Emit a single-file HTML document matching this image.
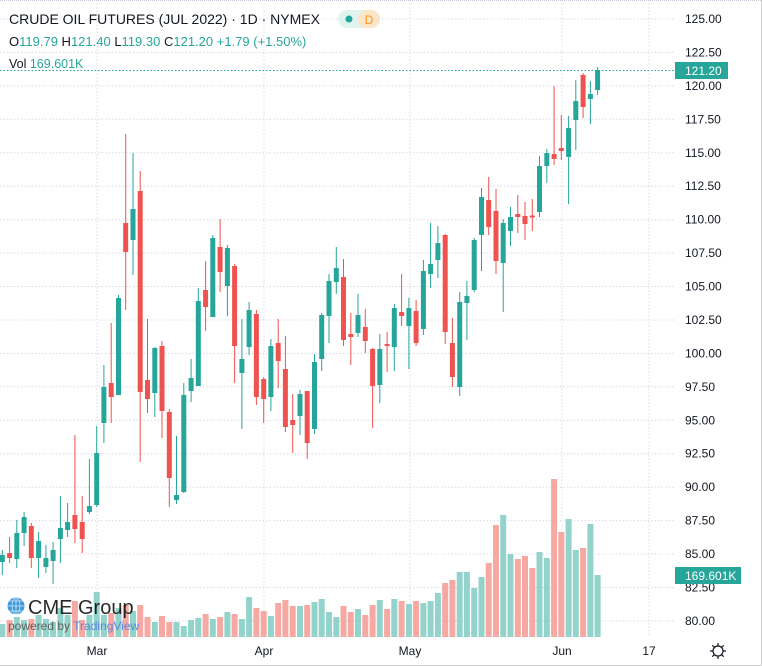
<!DOCTYPE html>
<html><head><meta charset="utf-8"><style>
html,body{margin:0;padding:0;background:#fff;}
body{width:762px;height:666px;overflow:hidden;position:relative;font-family:"Liberation Sans",sans-serif;}
svg{position:absolute;left:0;top:0;}
</style></head><body>
<svg width="762" height="666" viewBox="0 0 762 666" xmlns="http://www.w3.org/2000/svg" font-family="Liberation Sans, sans-serif">
<rect x="0" y="0" width="762" height="666" fill="#fff"/>
<line x1="0" y1="0.5" x2="762" y2="0.5" stroke="#c8c8d8" stroke-dasharray="1,1"/>
<line x1="761.5" y1="0" x2="761.5" y2="666" stroke="#d0d0d0"/>
<line x1="0" y1="665.5" x2="762" y2="665.5" stroke="#d0d0d0"/>
<g stroke="#dcd8e8" stroke-dasharray="1.5,2" stroke-width="1">
<line x1="0" x2="675" y1="19" y2="19"/><line x1="0" x2="675" y1="52.4" y2="52.4"/><line x1="0" x2="675" y1="85.9" y2="85.9"/><line x1="0" x2="675" y1="119.3" y2="119.3"/><line x1="0" x2="675" y1="152.8" y2="152.8"/><line x1="0" x2="675" y1="186.2" y2="186.2"/><line x1="0" x2="675" y1="219.7" y2="219.7"/><line x1="0" x2="675" y1="253.1" y2="253.1"/><line x1="0" x2="675" y1="286.5" y2="286.5"/><line x1="0" x2="675" y1="320" y2="320"/><line x1="0" x2="675" y1="353.4" y2="353.4"/><line x1="0" x2="675" y1="386.8" y2="386.8"/><line x1="0" x2="675" y1="420.3" y2="420.3"/><line x1="0" x2="675" y1="453.7" y2="453.7"/><line x1="0" x2="675" y1="487.2" y2="487.2"/><line x1="0" x2="675" y1="520.6" y2="520.6"/><line x1="0" x2="675" y1="554" y2="554"/><line x1="0" x2="675" y1="587.5" y2="587.5"/><line x1="0" x2="675" y1="620.9" y2="620.9"/>
<line x1="97" x2="97" y1="0" y2="637"/><line x1="264" x2="264" y1="0" y2="637"/><line x1="410" x2="410" y1="0" y2="637"/><line x1="562" x2="562" y1="0" y2="637"/><line x1="649" x2="649" y1="0" y2="637"/>
</g>
<g fill="#92d3cb">
<rect x="-0.7" y="624" width="6" height="13"/><rect x="13.8" y="617" width="6" height="20"/><rect x="21.1" y="620" width="6" height="17"/><rect x="35.6" y="615" width="6" height="22"/><rect x="42.9" y="619" width="6" height="18"/><rect x="50.1" y="622" width="6" height="15"/><rect x="57.4" y="608" width="6" height="29"/><rect x="64.6" y="615" width="6" height="22"/><rect x="86.4" y="615" width="6" height="22"/><rect x="93.7" y="592" width="6" height="45"/><rect x="100.9" y="615" width="6" height="22"/><rect x="115.5" y="608" width="6" height="29"/><rect x="130" y="611" width="6" height="26"/><rect x="151.8" y="622" width="6" height="15"/><rect x="173.5" y="622" width="6" height="15"/><rect x="180.8" y="626" width="6" height="11"/><rect x="188.1" y="620" width="6" height="17"/><rect x="195.3" y="618" width="6" height="19"/><rect x="209.8" y="619" width="6" height="18"/><rect x="224.4" y="612" width="6" height="25"/><rect x="238.9" y="619" width="6" height="18"/><rect x="246.1" y="597" width="6" height="40"/><rect x="267.9" y="616" width="6" height="21"/><rect x="297" y="606" width="6" height="31"/><rect x="311.5" y="602" width="6" height="35"/><rect x="318.7" y="599" width="6" height="38"/><rect x="326" y="612" width="6" height="25"/><rect x="333.3" y="617" width="6" height="20"/><rect x="355" y="609" width="6" height="28"/><rect x="376.8" y="600" width="6" height="37"/><rect x="391.3" y="599" width="6" height="38"/><rect x="405.9" y="604" width="6" height="33"/><rect x="420.4" y="603" width="6" height="34"/><rect x="427.6" y="601" width="6" height="36"/><rect x="434.9" y="593" width="6" height="44"/><rect x="456.7" y="572" width="6" height="65"/><rect x="463.9" y="572" width="6" height="65"/><rect x="471.2" y="588" width="6" height="49"/><rect x="478.5" y="577" width="6" height="60"/><rect x="500.2" y="515" width="6" height="122"/><rect x="507.5" y="554" width="6" height="83"/><rect x="536.5" y="552" width="6" height="85"/><rect x="543.8" y="558" width="6" height="79"/><rect x="565.6" y="519" width="6" height="118"/><rect x="572.8" y="550" width="6" height="87"/><rect x="587.4" y="524" width="6" height="113"/><rect x="594.6" y="575" width="6" height="62"/>
</g>
<g fill="#f6a9a3">
<rect x="6.6" y="620" width="6" height="17"/><rect x="28.3" y="619" width="6" height="18"/><rect x="71.9" y="601" width="6" height="36"/><rect x="79.2" y="620" width="6" height="17"/><rect x="108.2" y="613" width="6" height="24"/><rect x="122.7" y="605" width="6" height="32"/><rect x="137.2" y="605" width="6" height="32"/><rect x="144.5" y="617" width="6" height="20"/><rect x="159" y="616" width="6" height="21"/><rect x="166.3" y="622" width="6" height="15"/><rect x="202.6" y="614" width="6" height="23"/><rect x="217.1" y="617" width="6" height="20"/><rect x="231.6" y="614" width="6" height="23"/><rect x="253.4" y="608" width="6" height="29"/><rect x="260.7" y="611" width="6" height="26"/><rect x="275.2" y="603" width="6" height="34"/><rect x="282.4" y="600" width="6" height="37"/><rect x="289.7" y="606" width="6" height="31"/><rect x="304.2" y="605" width="6" height="32"/><rect x="340.5" y="606" width="6" height="31"/><rect x="347.8" y="612" width="6" height="25"/><rect x="362.3" y="615" width="6" height="22"/><rect x="369.6" y="605" width="6" height="32"/><rect x="384.1" y="609" width="6" height="28"/><rect x="398.6" y="601" width="6" height="36"/><rect x="413.1" y="601" width="6" height="36"/><rect x="442.2" y="583" width="6" height="54"/><rect x="449.4" y="580" width="6" height="57"/><rect x="485.7" y="563" width="6" height="74"/><rect x="493" y="525" width="6" height="112"/><rect x="514.8" y="559" width="6" height="78"/><rect x="522" y="556" width="6" height="81"/><rect x="529.3" y="568" width="6" height="69"/><rect x="551.1" y="479" width="6" height="158"/><rect x="558.3" y="532" width="6" height="105"/><rect x="580.1" y="548" width="6" height="89"/>
</g>
<g opacity="0.9">
<circle cx="16" cy="606" r="8.5" fill="#2a8fd6"/>
<path d="M7.5 606h17M16 597.5v17M9 601h14M9 611h14" stroke="#cfe8fa" stroke-width="0.8" fill="none"/>
<ellipse cx="16" cy="606" rx="4" ry="8.5" stroke="#cfe8fa" stroke-width="0.8" fill="none"/>
<text x="28" y="614" font-size="20" fill="#111">CME Group</text>
<text x="8" y="630" font-size="12" fill="#555">powered by <tspan fill="#4f7fe0">TradingView</tspan></text>
</g>
<g fill="#26a69a">
<rect x="1.8" y="550" width="1" height="25"/><rect x="-0.2" y="555" width="5" height="7"/>
<rect x="16.3" y="520" width="1" height="48"/><rect x="14.3" y="533" width="5" height="26"/>
<rect x="23.6" y="512" width="1" height="34"/><rect x="21.6" y="517" width="5" height="16"/>
<rect x="38.1" y="532" width="1" height="46"/><rect x="36.1" y="541" width="5" height="17"/>
<rect x="45.4" y="545" width="1" height="28"/><rect x="43.4" y="558" width="5" height="9"/>
<rect x="52.6" y="542" width="1" height="42"/><rect x="50.6" y="550" width="5" height="11"/>
<rect x="59.9" y="496" width="1" height="67"/><rect x="57.9" y="528" width="5" height="11"/>
<rect x="67.1" y="503" width="1" height="34"/><rect x="65.1" y="522" width="5" height="8"/>
<rect x="88.9" y="459" width="1" height="55"/><rect x="86.9" y="506" width="5" height="6"/>
<rect x="96.2" y="426" width="1" height="81"/><rect x="94.2" y="453" width="5" height="52"/>
<rect x="103.4" y="365" width="1" height="78"/><rect x="101.4" y="387" width="5" height="36"/>
<rect x="118" y="295" width="1" height="100"/><rect x="116" y="298" width="5" height="97"/>
<rect x="132.5" y="153" width="1" height="122"/><rect x="130.5" y="209" width="5" height="31"/>
<rect x="154.3" y="347" width="1" height="70"/><rect x="152.3" y="348" width="5" height="45"/>
<rect x="176" y="436" width="1" height="68"/><rect x="174" y="495" width="5" height="5"/>
<rect x="183.3" y="383" width="1" height="110"/><rect x="181.3" y="395" width="5" height="97"/>
<rect x="190.6" y="359" width="1" height="43"/><rect x="188.6" y="378" width="5" height="13"/>
<rect x="197.8" y="288" width="1" height="98"/><rect x="195.8" y="301" width="5" height="85"/>
<rect x="212.3" y="235" width="1" height="82"/><rect x="210.3" y="238" width="5" height="79"/>
<rect x="226.9" y="245" width="1" height="71"/><rect x="224.9" y="248" width="5" height="38"/>
<rect x="241.4" y="319" width="1" height="110"/><rect x="239.4" y="359" width="5" height="14"/>
<rect x="248.6" y="302" width="1" height="53"/><rect x="246.6" y="310" width="5" height="37"/>
<rect x="270.4" y="339" width="1" height="72"/><rect x="268.4" y="346" width="5" height="51"/>
<rect x="299.5" y="390" width="1" height="45"/><rect x="297.5" y="394" width="5" height="22"/>
<rect x="314" y="354" width="1" height="80"/><rect x="312" y="362" width="5" height="67"/>
<rect x="321.2" y="313" width="1" height="58"/><rect x="319.2" y="315" width="5" height="44"/>
<rect x="328.5" y="274" width="1" height="69"/><rect x="326.5" y="281" width="5" height="35"/>
<rect x="335.8" y="247" width="1" height="47"/><rect x="333.8" y="268" width="5" height="14"/>
<rect x="357.5" y="294" width="1" height="43"/><rect x="355.5" y="315" width="5" height="18"/>
<rect x="379.3" y="334" width="1" height="69"/><rect x="377.3" y="349" width="5" height="36"/>
<rect x="393.8" y="304" width="1" height="67"/><rect x="391.8" y="308" width="5" height="39"/>
<rect x="408.4" y="298" width="1" height="71"/><rect x="406.4" y="308" width="5" height="18"/>
<rect x="422.9" y="260" width="1" height="75"/><rect x="420.9" y="271" width="5" height="58"/>
<rect x="430.1" y="223" width="1" height="65"/><rect x="428.1" y="264" width="5" height="10"/>
<rect x="437.4" y="226" width="1" height="52"/><rect x="435.4" y="243" width="5" height="17"/>
<rect x="459.2" y="292" width="1" height="104"/><rect x="457.2" y="302" width="5" height="85"/>
<rect x="466.4" y="281" width="1" height="59"/><rect x="464.4" y="296" width="5" height="7"/>
<rect x="473.7" y="238" width="1" height="54"/><rect x="471.7" y="240" width="5" height="50"/>
<rect x="481" y="188" width="1" height="83"/><rect x="479" y="197" width="5" height="38"/>
<rect x="502.7" y="219" width="1" height="93"/><rect x="500.7" y="223" width="5" height="40"/>
<rect x="510" y="207" width="1" height="39"/><rect x="508" y="217" width="5" height="14"/>
<rect x="539" y="156" width="1" height="61"/><rect x="537" y="166" width="5" height="46"/>
<rect x="546.3" y="149" width="1" height="34"/><rect x="544.3" y="153" width="5" height="13"/>
<rect x="568.1" y="116" width="1" height="88"/><rect x="566.1" y="128" width="5" height="29"/>
<rect x="575.3" y="80" width="1" height="70"/><rect x="573.3" y="101" width="5" height="19"/>
<rect x="589.9" y="81" width="1" height="43"/><rect x="587.9" y="94" width="5" height="5"/>
<rect x="597.1" y="67" width="1" height="28"/><rect x="595.1" y="70" width="5" height="20"/>
</g>
<g fill="#ef5350">
<rect x="9.1" y="537" width="1" height="26"/><rect x="7.1" y="553" width="5" height="5"/>
<rect x="30.8" y="523" width="1" height="45"/><rect x="28.8" y="526" width="5" height="32"/>
<rect x="74.4" y="435" width="1" height="108"/><rect x="72.4" y="515" width="5" height="14"/>
<rect x="81.7" y="496" width="1" height="57"/><rect x="79.7" y="522" width="5" height="17"/>
<rect x="110.7" y="323" width="1" height="100"/><rect x="108.7" y="383" width="5" height="14"/>
<rect x="125.2" y="134" width="1" height="176"/><rect x="123.2" y="223" width="5" height="29"/>
<rect x="139.7" y="171" width="1" height="291"/><rect x="137.7" y="191" width="5" height="201"/>
<rect x="147" y="319" width="1" height="94"/><rect x="145" y="380" width="5" height="19"/>
<rect x="161.5" y="341" width="1" height="97"/><rect x="159.5" y="346" width="5" height="65"/>
<rect x="168.8" y="409" width="1" height="98"/><rect x="166.8" y="412" width="5" height="66"/>
<rect x="205.1" y="261" width="1" height="70"/><rect x="203.1" y="290" width="5" height="17"/>
<rect x="219.6" y="219" width="1" height="73"/><rect x="217.6" y="247" width="5" height="25"/>
<rect x="234.1" y="264" width="1" height="119"/><rect x="232.1" y="266" width="5" height="80"/>
<rect x="255.9" y="310" width="1" height="95"/><rect x="253.9" y="314" width="5" height="83"/>
<rect x="263.2" y="377" width="1" height="46"/><rect x="261.2" y="379" width="5" height="20"/>
<rect x="277.7" y="319" width="1" height="69"/><rect x="275.7" y="343" width="5" height="18"/>
<rect x="284.9" y="336" width="1" height="96"/><rect x="282.9" y="369" width="5" height="58"/>
<rect x="292.2" y="394" width="1" height="59"/><rect x="290.2" y="420" width="5" height="5"/>
<rect x="306.7" y="391" width="1" height="68"/><rect x="304.7" y="391" width="5" height="52"/>
<rect x="343" y="259" width="1" height="87"/><rect x="341" y="277" width="5" height="63"/>
<rect x="350.3" y="313" width="1" height="52"/><rect x="348.3" y="334" width="5" height="3"/>
<rect x="364.8" y="309" width="1" height="44"/><rect x="362.8" y="327" width="5" height="14"/>
<rect x="372.1" y="348" width="1" height="80"/><rect x="370.1" y="349" width="5" height="37"/>
<rect x="386.6" y="332" width="1" height="40"/><rect x="384.6" y="344" width="5" height="2"/>
<rect x="401.1" y="274" width="1" height="52"/><rect x="399.1" y="312" width="5" height="4"/>
<rect x="415.6" y="300" width="1" height="46"/><rect x="413.6" y="311" width="5" height="32"/>
<rect x="444.7" y="234" width="1" height="110"/><rect x="442.7" y="235" width="5" height="97"/>
<rect x="451.9" y="318" width="1" height="69"/><rect x="449.9" y="343" width="5" height="34"/>
<rect x="488.2" y="177" width="1" height="58"/><rect x="486.2" y="200" width="5" height="27"/>
<rect x="495.5" y="189" width="1" height="85"/><rect x="493.5" y="211" width="5" height="50"/>
<rect x="517.3" y="195" width="1" height="38"/><rect x="515.3" y="214" width="5" height="3"/>
<rect x="524.5" y="202" width="1" height="38"/><rect x="522.5" y="216" width="5" height="8"/>
<rect x="531.8" y="199" width="1" height="32"/><rect x="529.8" y="215.5" width="5" height="2"/>
<rect x="553.6" y="86" width="1" height="79"/><rect x="551.6" y="154" width="5" height="5"/>
<rect x="560.8" y="115" width="1" height="45"/><rect x="558.8" y="148" width="5" height="3"/>
<rect x="582.6" y="73" width="1" height="45"/><rect x="580.6" y="75" width="5" height="32"/>
</g>
<line x1="0" y1="70.5" x2="675" y2="70.5" stroke="#26a69a" stroke-dasharray="1.5,2"/>
<g font-size="12" fill="#131722">
<text x="685" y="23">125.00</text><text x="685" y="56.4">122.50</text><text x="685" y="89.9">120.00</text><text x="685" y="123.3">117.50</text><text x="685" y="156.8">115.00</text><text x="685" y="190.2">112.50</text><text x="685" y="223.7">110.00</text><text x="685" y="257.1">107.50</text><text x="685" y="290.5">105.00</text><text x="685" y="324">102.50</text><text x="685" y="357.4">100.00</text><text x="685" y="390.8">97.50</text><text x="685" y="424.3">95.00</text><text x="685" y="457.7">92.50</text><text x="685" y="491.2">90.00</text><text x="685" y="524.6">87.50</text><text x="685" y="558">85.00</text><text x="685" y="591.5">82.50</text><text x="685" y="624.9">80.00</text>
</g>
<rect x="675" y="62" width="53" height="17" fill="#26a69a"/>
<text x="685" y="75" font-size="12" fill="#fff">121.20</text>
<rect x="675" y="567" width="66" height="17" fill="#26a69a"/>
<text x="685" y="580" font-size="12" fill="#fff">169.601K</text>
<g font-size="12" fill="#131722" text-anchor="middle">
<text x="97" y="655">Mar</text><text x="264" y="655">Apr</text><text x="410" y="655">May</text><text x="562" y="655">Jun</text><text x="649" y="655">17</text>
</g>
<g stroke="#131722" stroke-width="1.2" fill="none">
<circle cx="718" cy="651" r="5"/>
<path d="M718 643v3M718 656v3M710 651h3M723 651h3M712.3 645.3l2 2M721.7 654.7l2 2M712.3 656.7l2-2M721.7 647.3l2-2"/>
</g>
<text x="9" y="24" font-size="14" fill="#131722">CRUDE OIL FUTURES (JUL 2022) · 1D · NYMEX</text>
<rect x="338" y="10" width="42" height="18" rx="9" fill="#e0f3ef"/>
<circle cx="349" cy="19" r="3.5" fill="#26a69a"/>
<rect x="358" y="10" width="22" height="18" rx="9" fill="#fde5c8"/>
<text x="369" y="24" font-size="12" fill="#f7931a" text-anchor="middle">D</text>
<text x="9" y="46" font-size="13" fill="#26a69a"><tspan fill="#131722">O</tspan>119.79 <tspan fill="#131722">H</tspan>121.40 <tspan fill="#131722">L</tspan>119.30 <tspan fill="#131722">C</tspan>121.20 +1.79 (+1.50%)</text>
<text x="9" y="68" font-size="12.5" fill="#131722">Vol <tspan fill="#26a69a">169.601K</tspan></text>
</svg>
</body></html>
